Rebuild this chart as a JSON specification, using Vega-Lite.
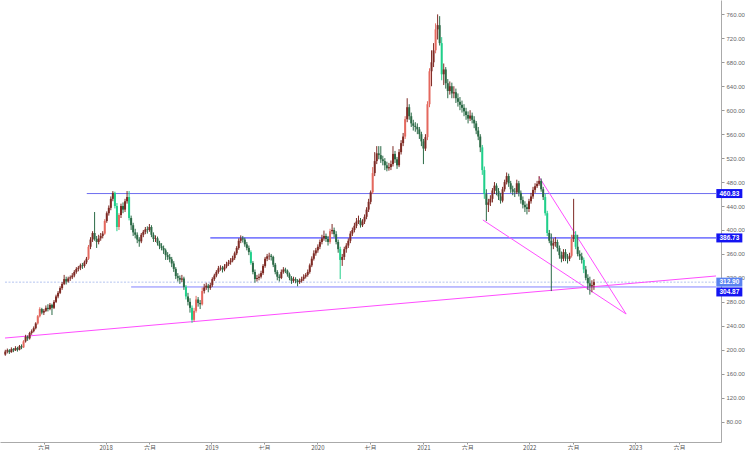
{
"$schema":"https://vega.github.io/schema/vega-lite/v6.json",
"width":721,"height":442,"padding":0,"background":"white",
"config":{"view":{"stroke":null},"axis":{"grid":false,"title":null,"labelOverlap":false,"labelBound":false},"axisY":{"labelOverlap":false}},
"datasets":{
"k":[
{"d":"2017-01-20","o":192,"h":200,"l":190,"c":197},{"d":"2017-01-27","o":197,"h":202,"l":194,"c":199},{"d":"2017-02-03","o":199,"h":201,"l":193,"c":196},{"d":"2017-02-10","o":196,"h":204,"l":195,"c":201},{"d":"2017-02-17","o":201,"h":203,"l":196,"c":199},{"d":"2017-02-24","o":199,"h":206,"l":198,"c":203},{"d":"2017-03-03","o":203,"h":205,"l":197,"c":200},{"d":"2017-03-10","o":200,"h":208,"l":199,"c":206},{"d":"2017-03-17","o":206,"h":209,"l":201,"c":204},{"d":"2017-03-24","o":204,"h":216,"l":203,"c":214},
{"d":"2017-03-31","o":214,"h":225,"l":212,"c":222},{"d":"2017-04-07","o":222,"h":224,"l":215,"c":219},{"d":"2017-04-14","o":219,"h":230,"l":217,"c":228},{"d":"2017-04-21","o":228,"h":234,"l":225,"c":231},{"d":"2017-04-28","o":231,"h":239,"l":229,"c":236},{"d":"2017-05-05","o":236,"h":246,"l":234,"c":244},{"d":"2017-05-12","o":244,"h":258,"l":242,"c":256},{"d":"2017-05-19","o":256,"h":271,"l":254,"c":268},{"d":"2017-05-26","o":268,"h":270,"l":259,"c":262},{"d":"2017-06-02","o":262,"h":268,"l":258,"c":265},
{"d":"2017-06-09","o":265,"h":274,"l":263,"c":270},{"d":"2017-06-16","o":270,"h":276,"l":264,"c":268},{"d":"2017-06-23","o":268,"h":278,"l":266,"c":275},{"d":"2017-06-30","o":275,"h":277,"l":258,"c":270},{"d":"2017-07-07","o":270,"h":283,"l":268,"c":280},{"d":"2017-07-14","o":280,"h":292,"l":278,"c":289},{"d":"2017-07-21","o":289,"h":298,"l":286,"c":295},{"d":"2017-07-28","o":295,"h":306,"l":293,"c":303},{"d":"2017-08-04","o":303,"h":313,"l":300,"c":310},{"d":"2017-08-11","o":310,"h":325,"l":308,"c":318},
{"d":"2017-08-18","o":318,"h":322,"l":309,"c":314},{"d":"2017-08-25","o":314,"h":322,"l":312,"c":319},{"d":"2017-09-01","o":319,"h":324,"l":315,"c":321},{"d":"2017-09-08","o":321,"h":328,"l":318,"c":324},{"d":"2017-09-15","o":324,"h":333,"l":321,"c":330},{"d":"2017-09-22","o":330,"h":338,"l":327,"c":335},{"d":"2017-09-29","o":335,"h":340,"l":331,"c":337},{"d":"2017-10-06","o":337,"h":344,"l":333,"c":341},{"d":"2017-10-13","o":341,"h":345,"l":335,"c":340},{"d":"2017-10-20","o":340,"h":349,"l":337,"c":346},
{"d":"2017-10-27","o":346,"h":355,"l":343,"c":352},{"d":"2017-11-03","o":352,"h":375,"l":350,"c":372},{"d":"2017-11-10","o":372,"h":388,"l":368,"c":384},{"d":"2017-11-17","o":384,"h":398,"l":380,"c":395},{"d":"2017-11-24","o":395,"h":430,"l":382,"c":385},{"d":"2017-12-01","o":385,"h":390,"l":370,"c":380},{"d":"2017-12-08","o":380,"h":392,"l":376,"c":386},{"d":"2017-12-15","o":386,"h":395,"l":382,"c":390},{"d":"2017-12-22","o":390,"h":398,"l":386,"c":394},{"d":"2017-12-29","o":394,"h":418,"l":392,"c":415},
{"d":"2018-01-05","o":415,"h":431,"l":412,"c":428},{"d":"2018-01-12","o":428,"h":441,"l":424,"c":437},{"d":"2018-01-19","o":437,"h":456,"l":433,"c":452},{"d":"2018-01-26","o":452,"h":465,"l":448,"c":462},{"d":"2018-02-02","o":462,"h":464,"l":436,"c":440},{"d":"2018-02-09","o":440,"h":445,"l":398,"c":405},{"d":"2018-02-16","o":405,"h":428,"l":400,"c":425},{"d":"2018-02-23","o":425,"h":444,"l":420,"c":440},{"d":"2018-03-02","o":440,"h":446,"l":428,"c":434},{"d":"2018-03-09","o":434,"h":452,"l":430,"c":448},
{"d":"2018-03-16","o":448,"h":465,"l":444,"c":455},{"d":"2018-03-23","o":455,"h":465,"l":416,"c":420},{"d":"2018-03-30","o":420,"h":424,"l":400,"c":408},{"d":"2018-04-06","o":408,"h":412,"l":390,"c":396},{"d":"2018-04-13","o":396,"h":402,"l":386,"c":392},{"d":"2018-04-20","o":392,"h":396,"l":378,"c":384},{"d":"2018-04-27","o":384,"h":388,"l":372,"c":381},{"d":"2018-05-04","o":381,"h":395,"l":378,"c":392},{"d":"2018-05-11","o":392,"h":400,"l":388,"c":397},{"d":"2018-05-18","o":397,"h":405,"l":393,"c":401},
{"d":"2018-05-25","o":401,"h":406,"l":394,"c":400},{"d":"2018-06-01","o":400,"h":410,"l":397,"c":405},{"d":"2018-06-08","o":405,"h":408,"l":388,"c":392},{"d":"2018-06-15","o":392,"h":396,"l":380,"c":385},{"d":"2018-06-22","o":385,"h":391,"l":380,"c":386},{"d":"2018-06-29","o":386,"h":389,"l":374,"c":378},{"d":"2018-07-06","o":378,"h":382,"l":368,"c":373},{"d":"2018-07-13","o":373,"h":378,"l":366,"c":370},{"d":"2018-07-20","o":370,"h":374,"l":360,"c":366},{"d":"2018-07-27","o":366,"h":369,"l":350,"c":358},
{"d":"2018-08-03","o":358,"h":363,"l":350,"c":355},{"d":"2018-08-10","o":355,"h":360,"l":346,"c":351},{"d":"2018-08-17","o":351,"h":355,"l":338,"c":344},{"d":"2018-08-24","o":344,"h":348,"l":330,"c":335},{"d":"2018-08-31","o":335,"h":338,"l":318,"c":323},{"d":"2018-09-07","o":323,"h":328,"l":314,"c":320},{"d":"2018-09-14","o":320,"h":324,"l":310,"c":317},{"d":"2018-09-21","o":317,"h":325,"l":313,"c":319},{"d":"2018-09-28","o":319,"h":322,"l":300,"c":305},{"d":"2018-10-05","o":305,"h":308,"l":284,"c":289},
{"d":"2018-10-12","o":289,"h":295,"l":274,"c":280},{"d":"2018-10-19","o":280,"h":286,"l":262,"c":270},{"d":"2018-10-26","o":270,"h":274,"l":245,"c":250},{"d":"2018-11-02","o":250,"h":270,"l":247,"c":265},{"d":"2018-11-09","o":265,"h":290,"l":262,"c":284},{"d":"2018-11-16","o":284,"h":288,"l":272,"c":278},{"d":"2018-11-23","o":278,"h":283,"l":268,"c":276},{"d":"2018-11-30","o":276,"h":304,"l":274,"c":298},{"d":"2018-12-07","o":298,"h":310,"l":294,"c":304},{"d":"2018-12-14","o":304,"h":312,"l":300,"c":307},
{"d":"2018-12-21","o":307,"h":310,"l":296,"c":303},{"d":"2018-12-28","o":303,"h":312,"l":300,"c":308},{"d":"2019-01-04","o":308,"h":321,"l":305,"c":318},{"d":"2019-01-11","o":318,"h":327,"l":315,"c":324},{"d":"2019-01-18","o":324,"h":333,"l":321,"c":330},{"d":"2019-01-25","o":330,"h":340,"l":327,"c":336},{"d":"2019-02-01","o":336,"h":341,"l":332,"c":337},{"d":"2019-02-08","o":337,"h":340,"l":329,"c":334},{"d":"2019-02-15","o":334,"h":343,"l":331,"c":339},{"d":"2019-02-22","o":339,"h":347,"l":336,"c":343},
{"d":"2019-03-01","o":343,"h":350,"l":340,"c":346},{"d":"2019-03-08","o":346,"h":353,"l":342,"c":349},{"d":"2019-03-15","o":349,"h":357,"l":346,"c":353},{"d":"2019-03-22","o":353,"h":364,"l":350,"c":361},{"d":"2019-03-29","o":361,"h":373,"l":358,"c":370},{"d":"2019-04-05","o":370,"h":386,"l":367,"c":382},{"d":"2019-04-12","o":382,"h":391,"l":378,"c":386},{"d":"2019-04-19","o":386,"h":390,"l":379,"c":384},{"d":"2019-04-26","o":384,"h":387,"l":372,"c":376},{"d":"2019-05-03","o":376,"h":380,"l":366,"c":370},
{"d":"2019-05-10","o":370,"h":374,"l":358,"c":363},{"d":"2019-05-17","o":363,"h":366,"l":342,"c":345},{"d":"2019-05-24","o":345,"h":348,"l":326,"c":330},{"d":"2019-05-31","o":330,"h":334,"l":312,"c":318},{"d":"2019-06-07","o":318,"h":325,"l":314,"c":320},{"d":"2019-06-14","o":320,"h":327,"l":316,"c":322},{"d":"2019-06-21","o":322,"h":332,"l":319,"c":328},{"d":"2019-06-28","o":328,"h":343,"l":325,"c":340},{"d":"2019-07-05","o":340,"h":355,"l":337,"c":352},{"d":"2019-07-12","o":352,"h":360,"l":348,"c":356},
{"d":"2019-07-19","o":356,"h":362,"l":350,"c":357},{"d":"2019-07-26","o":357,"h":360,"l":349,"c":355},{"d":"2019-08-02","o":355,"h":357,"l":338,"c":342},{"d":"2019-08-09","o":342,"h":345,"l":326,"c":330},{"d":"2019-08-16","o":330,"h":333,"l":316,"c":322},{"d":"2019-08-23","o":322,"h":326,"l":314,"c":320},{"d":"2019-08-30","o":320,"h":334,"l":318,"c":330},{"d":"2019-09-06","o":330,"h":338,"l":327,"c":334},{"d":"2019-09-13","o":334,"h":337,"l":328,"c":332},{"d":"2019-09-20","o":332,"h":334,"l":322,"c":326},
{"d":"2019-09-27","o":326,"h":329,"l":316,"c":320},{"d":"2019-10-04","o":320,"h":323,"l":310,"c":315},{"d":"2019-10-11","o":315,"h":322,"l":312,"c":318},{"d":"2019-10-18","o":318,"h":321,"l":311,"c":316},{"d":"2019-10-25","o":316,"h":318,"l":306,"c":313},{"d":"2019-11-01","o":313,"h":319,"l":310,"c":315},{"d":"2019-11-08","o":315,"h":322,"l":312,"c":318},{"d":"2019-11-15","o":318,"h":326,"l":315,"c":322},{"d":"2019-11-22","o":322,"h":328,"l":319,"c":325},{"d":"2019-11-29","o":325,"h":334,"l":322,"c":330},
{"d":"2019-12-06","o":330,"h":344,"l":327,"c":341},{"d":"2019-12-13","o":341,"h":356,"l":338,"c":352},{"d":"2019-12-20","o":352,"h":366,"l":349,"c":361},{"d":"2019-12-27","o":361,"h":370,"l":357,"c":366},{"d":"2020-01-03","o":366,"h":376,"l":362,"c":372},{"d":"2020-01-10","o":372,"h":384,"l":368,"c":380},{"d":"2020-01-17","o":380,"h":392,"l":376,"c":386},{"d":"2020-01-24","o":386,"h":399,"l":382,"c":390},{"d":"2020-01-31","o":390,"h":394,"l":380,"c":385},{"d":"2020-02-07","o":385,"h":390,"l":374,"c":380},
{"d":"2020-02-14","o":380,"h":402,"l":377,"c":398},{"d":"2020-02-21","o":398,"h":410,"l":393,"c":400},{"d":"2020-02-28","o":400,"h":404,"l":388,"c":393},{"d":"2020-03-06","o":393,"h":398,"l":376,"c":380},{"d":"2020-03-13","o":380,"h":384,"l":362,"c":368},{"d":"2020-03-20","o":368,"h":372,"l":318,"c":350},{"d":"2020-03-27","o":350,"h":360,"l":340,"c":355},{"d":"2020-04-03","o":355,"h":372,"l":350,"c":368},{"d":"2020-04-10","o":368,"h":378,"l":362,"c":374},{"d":"2020-04-17","o":374,"h":386,"l":370,"c":382},
{"d":"2020-04-24","o":382,"h":398,"l":378,"c":394},{"d":"2020-05-01","o":394,"h":404,"l":390,"c":400},{"d":"2020-05-08","o":400,"h":412,"l":396,"c":407},{"d":"2020-05-15","o":407,"h":420,"l":403,"c":414},{"d":"2020-05-22","o":414,"h":424,"l":410,"c":416},{"d":"2020-05-29","o":416,"h":420,"l":404,"c":408},{"d":"2020-06-05","o":408,"h":418,"l":405,"c":414},{"d":"2020-06-12","o":414,"h":426,"l":410,"c":422},{"d":"2020-06-19","o":422,"h":438,"l":418,"c":434},{"d":"2020-06-26","o":434,"h":452,"l":430,"c":447},
{"d":"2020-07-03","o":447,"h":466,"l":443,"c":463},{"d":"2020-07-10","o":463,"h":505,"l":460,"c":495},{"d":"2020-07-17","o":495,"h":530,"l":490,"c":515},{"d":"2020-07-24","o":515,"h":540,"l":510,"c":528},{"d":"2020-07-31","o":528,"h":540,"l":518,"c":525},{"d":"2020-08-07","o":525,"h":540,"l":512,"c":518},{"d":"2020-08-14","o":518,"h":524,"l":508,"c":515},{"d":"2020-08-21","o":515,"h":520,"l":500,"c":508},{"d":"2020-08-28","o":508,"h":514,"l":498,"c":503},{"d":"2020-09-04","o":503,"h":512,"l":499,"c":505},
{"d":"2020-09-11","o":505,"h":516,"l":500,"c":510},{"d":"2020-09-18","o":510,"h":540,"l":506,"c":527},{"d":"2020-09-25","o":527,"h":532,"l":512,"c":518},{"d":"2020-10-02","o":518,"h":522,"l":502,"c":508},{"d":"2020-10-09","o":508,"h":535,"l":505,"c":530},{"d":"2020-10-16","o":530,"h":550,"l":526,"c":545},{"d":"2020-10-23","o":545,"h":562,"l":540,"c":556},{"d":"2020-10-30","o":556,"h":590,"l":552,"c":585},{"d":"2020-11-06","o":585,"h":620,"l":580,"c":605},{"d":"2020-11-13","o":605,"h":610,"l":584,"c":590},
{"d":"2020-11-20","o":590,"h":596,"l":572,"c":578},{"d":"2020-11-27","o":578,"h":584,"l":566,"c":574},{"d":"2020-12-04","o":574,"h":580,"l":564,"c":572},{"d":"2020-12-11","o":572,"h":578,"l":560,"c":568},{"d":"2020-12-18","o":568,"h":572,"l":552,"c":560},{"d":"2020-12-25","o":560,"h":564,"l":540,"c":548},{"d":"2021-01-01","o":548,"h":552,"l":510,"c":536},{"d":"2021-01-08","o":536,"h":560,"l":532,"c":555},{"d":"2021-01-15","o":555,"h":615,"l":550,"c":610},{"d":"2021-01-22","o":610,"h":670,"l":605,"c":665},
{"d":"2021-01-29","o":665,"h":700,"l":640,"c":680},{"d":"2021-02-05","o":680,"h":712,"l":672,"c":700},{"d":"2021-02-12","o":700,"h":745,"l":695,"c":735},{"d":"2021-02-19","o":735,"h":760,"l":718,"c":742},{"d":"2021-02-26","o":742,"h":757,"l":708,"c":712},{"d":"2021-03-05","o":712,"h":722,"l":650,"c":660},{"d":"2021-03-12","o":660,"h":678,"l":642,"c":668},{"d":"2021-03-19","o":668,"h":672,"l":636,"c":645},{"d":"2021-03-26","o":645,"h":652,"l":620,"c":632},{"d":"2021-04-02","o":632,"h":648,"l":626,"c":640},
{"d":"2021-04-09","o":640,"h":646,"l":620,"c":628},{"d":"2021-04-16","o":628,"h":640,"l":620,"c":630},{"d":"2021-04-23","o":630,"h":636,"l":612,"c":620},{"d":"2021-04-30","o":620,"h":628,"l":606,"c":614},{"d":"2021-05-07","o":614,"h":622,"l":600,"c":609},{"d":"2021-05-14","o":609,"h":616,"l":596,"c":604},{"d":"2021-05-21","o":604,"h":610,"l":590,"c":598},{"d":"2021-05-28","o":598,"h":604,"l":584,"c":592},{"d":"2021-06-04","o":592,"h":598,"l":578,"c":586},{"d":"2021-06-11","o":586,"h":600,"l":582,"c":591},
{"d":"2021-06-18","o":591,"h":596,"l":578,"c":584},{"d":"2021-06-25","o":584,"h":590,"l":570,"c":578},{"d":"2021-07-02","o":578,"h":582,"l":560,"c":566},{"d":"2021-07-09","o":566,"h":572,"l":550,"c":556},{"d":"2021-07-16","o":556,"h":560,"l":530,"c":538},{"d":"2021-07-23","o":538,"h":542,"l":492,"c":500},{"d":"2021-07-30","o":500,"h":506,"l":452,"c":460},{"d":"2021-08-06","o":460,"h":468,"l":415,"c":442},{"d":"2021-08-13","o":442,"h":452,"l":430,"c":446},{"d":"2021-08-20","o":446,"h":458,"l":440,"c":452},
{"d":"2021-08-27","o":452,"h":470,"l":446,"c":466},{"d":"2021-09-03","o":466,"h":480,"l":460,"c":474},{"d":"2021-09-10","o":474,"h":478,"l":458,"c":465},{"d":"2021-09-17","o":465,"h":470,"l":450,"c":456},{"d":"2021-09-24","o":456,"h":462,"l":444,"c":449},{"d":"2021-10-01","o":449,"h":472,"l":446,"c":468},{"d":"2021-10-08","o":468,"h":484,"l":464,"c":480},{"d":"2021-10-15","o":480,"h":496,"l":476,"c":490},{"d":"2021-10-22","o":490,"h":494,"l":472,"c":478},{"d":"2021-10-29","o":478,"h":482,"l":462,"c":468},
{"d":"2021-11-05","o":468,"h":474,"l":458,"c":464},{"d":"2021-11-12","o":464,"h":470,"l":455,"c":463},{"d":"2021-11-19","o":463,"h":484,"l":460,"c":478},{"d":"2021-11-26","o":478,"h":482,"l":456,"c":462},{"d":"2021-12-03","o":462,"h":466,"l":444,"c":450},{"d":"2021-12-10","o":450,"h":456,"l":436,"c":442},{"d":"2021-12-17","o":442,"h":448,"l":430,"c":438},{"d":"2021-12-24","o":438,"h":444,"l":426,"c":435},{"d":"2021-12-31","o":435,"h":452,"l":430,"c":448},{"d":"2022-01-07","o":448,"h":462,"l":444,"c":456},
{"d":"2022-01-14","o":456,"h":472,"l":452,"c":467},{"d":"2022-01-21","o":467,"h":478,"l":462,"c":473},{"d":"2022-01-28","o":473,"h":482,"l":470,"c":477},{"d":"2022-02-04","o":477,"h":490,"l":474,"c":482},{"d":"2022-02-11","o":482,"h":486,"l":464,"c":468},{"d":"2022-02-18","o":468,"h":472,"l":450,"c":455},{"d":"2022-02-25","o":455,"h":460,"l":424,"c":428},{"d":"2022-03-04","o":428,"h":432,"l":390,"c":395},{"d":"2022-03-11","o":395,"h":400,"l":378,"c":382},{"d":"2022-03-18","o":382,"h":394,"l":298,"c":374},
{"d":"2022-03-25","o":374,"h":386,"l":368,"c":378},{"d":"2022-04-01","o":378,"h":388,"l":372,"c":380},{"d":"2022-04-08","o":380,"h":384,"l":364,"c":370},{"d":"2022-04-15","o":370,"h":374,"l":352,"c":358},{"d":"2022-04-22","o":358,"h":364,"l":346,"c":352},{"d":"2022-04-29","o":352,"h":368,"l":348,"c":363},{"d":"2022-05-06","o":363,"h":368,"l":348,"c":354},{"d":"2022-05-13","o":354,"h":360,"l":344,"c":352},{"d":"2022-05-20","o":352,"h":362,"l":348,"c":357},{"d":"2022-05-27","o":357,"h":392,"l":354,"c":385},
{"d":"2022-06-03","o":385,"h":452,"l":380,"c":392},{"d":"2022-06-10","o":392,"h":398,"l":368,"c":372},{"d":"2022-06-17","o":372,"h":392,"l":356,"c":360},{"d":"2022-06-24","o":360,"h":366,"l":350,"c":356},{"d":"2022-07-01","o":356,"h":362,"l":344,"c":350},{"d":"2022-07-08","o":350,"h":354,"l":328,"c":334},{"d":"2022-07-15","o":334,"h":340,"l":316,"c":320},{"d":"2022-07-22","o":320,"h":326,"l":300,"c":311},{"d":"2022-07-29","o":311,"h":322,"l":292,"c":306},{"d":"2022-08-05","o":306,"h":316,"l":296,"c":308},
{"d":"2022-08-12","o":308,"h":318,"l":300,"c":312.9}
],
"tl":[
{"s":"2017-01-19","e":"2023-10-07","a":219.6,"b":323.2},
{"s":"2021-07-25","e":"2022-12-01","a":416.7,"b":259.7},
{"s":"2022-02-04","e":"2022-12-01","a":488.5,"b":259.7}
],
"lv":[
{"s":"2017-10-28","e":"2023-10-07","v":460.83,"n":"a"},
{"s":"2018-12-28","e":"2023-10-07","v":386.73,"n":"b"},
{"s":"2018-03-30","e":"2023-10-07","v":304.87,"n":"c"}
],
"cur":[{"s":"2017-01-19","e":"2023-10-07","v":312.9}],
"lab":[{"v":460.83,"n":"a"},{"v":386.73,"n":"b"},{"v":312.9,"n":"p"}],
"lab2":[{"v":304.87,"n":"c"}]
},
"layer":[
{"data":{"name":"cur"},"mark":{"type":"rule","color":"#b4c4f0","strokeWidth":1,"strokeDash":[2,1.5]},
 "encoding":{"x":{"field":"s","type":"temporal","scale":{"type":"utc","domain":[{"year":2017,"month":1,"date":19,"utc":true},{"year":2023,"month":10,"date":7,"utc":true}]},
   "axis":{"orient":"bottom","title":null,"values":[{"year":2017,"month":6,"date":1,"utc":true},{"year":2018,"month":1,"date":1,"utc":true},{"year":2018,"month":6,"date":1,"utc":true},{"year":2019,"month":1,"date":1,"utc":true},{"year":2019,"month":7,"date":1,"utc":true},{"year":2020,"month":1,"date":1,"utc":true},{"year":2020,"month":7,"date":1,"utc":true},{"year":2021,"month":1,"date":1,"utc":true},{"year":2021,"month":6,"date":1,"utc":true},{"year":2022,"month":1,"date":1,"utc":true},{"year":2022,"month":6,"date":1,"utc":true},{"year":2023,"month":1,"date":1,"utc":true},{"year":2023,"month":6,"date":1,"utc":true}],
   "labelExpr":"utcmonth(datum.value)==0 ? utcFormat(datum.value,'%Y') : (utcmonth(datum.value)==5 ? '六月' : '七月')",
   "labelFont":"Noto Sans CJK SC","labelFontSize":6,"labelColor":"#555555","labelPadding":0,"tickSize":2,"tickColor":"#999999","domainColor":"#aaaaaa","grid":false,"labelFlush":false,"labelOverlap":false}},
  "x2":{"field":"e"},
  "y":{"field":"v","type":"quantitative","scale":{"domain":[46,784],"nice":false,"zero":false},
   "axis":{"orient":"right","title":null,"values":[80,120,160,200,240,280,320,360,400,440,480,520,560,600,640,680,720,760],"format":".2f","labelFont":"Liberation Sans","labelFontSize":6,"labelColor":"#666666","labelPadding":2,"tickSize":3,"tickColor":"#999999","domainColor":"#aaaaaa","grid":false,"labelOverlap":false,"labelSeparation":0}}}},
{"data":{"name":"lv"},"mark":{"type":"rule","strokeWidth":1},
 "encoding":{"x":{"field":"s","type":"temporal"},"x2":{"field":"e"},
 "y":{"field":"v","type":"quantitative","axis":{"orient":"right","title":null,"values":[80,120,160,200,240,280,320,360,400,440,480,520,560,600,640,680,720,760],"format":".2f","labelFont":"Liberation Sans","labelFontSize":6,"labelColor":"#666666","labelPadding":2,"tickSize":3,"tickColor":"#999999","domainColor":"#aaaaaa","grid":false,"labelOverlap":false,"labelSeparation":0}},
 "color":{"condition":[{"test":"datum.n=='a'","value":"#6e6ef0"},{"test":"datum.n=='b'","value":"#2020ff"}],"value":"#8282ff"}}},
{"data":{"name":"tl"},"mark":{"type":"rule","color":"#ff4dff","strokeWidth":1},
 "encoding":{"x":{"field":"s","type":"temporal"},"x2":{"field":"e"},
 "y":{"field":"a","type":"quantitative","axis":{"orient":"right","title":null,"values":[80,120,160,200,240,280,320,360,400,440,480,520,560,600,640,680,720,760],"format":".2f","labelFont":"Liberation Sans","labelFontSize":6,"labelColor":"#666666","labelPadding":2,"tickSize":3,"tickColor":"#999999","domainColor":"#aaaaaa","grid":false,"labelOverlap":false,"labelSeparation":0}},"y2":{"field":"b"}}},
{"data":{"name":"k"},"mark":{"type":"rule","strokeWidth":1},
 "encoding":{"x":{"field":"d","type":"temporal"},
  "y":{"field":"l","type":"quantitative","axis":{"orient":"right","title":null,"values":[80,120,160,200,240,280,320,360,400,440,480,520,560,600,640,680,720,760],"format":".2f","labelFont":"Liberation Sans","labelFontSize":6,"labelColor":"#666666","labelPadding":2,"tickSize":3,"tickColor":"#999999","domainColor":"#aaaaaa","grid":false,"labelOverlap":false,"labelSeparation":0}},
  "y2":{"field":"h"},
  "color":{"condition":[{"test":"datum.c>=datum.o && (datum.c-datum.o)/datum.o>0.045","value":"#e4685e"},{"test":"datum.c>=datum.o","value":"#7e2a24"},{"test":"(datum.o-datum.c)/datum.o>0.045","value":"#20cf8a"}],"value":"#2b6a46"}}},
{"data":{"name":"k"},"mark":{"type":"bar","size":2},
 "encoding":{"x":{"field":"d","type":"temporal"},
  "y":{"field":"o","type":"quantitative","axis":{"orient":"right","title":null,"values":[80,120,160,200,240,280,320,360,400,440,480,520,560,600,640,680,720,760],"format":".2f","labelFont":"Liberation Sans","labelFontSize":6,"labelColor":"#666666","labelPadding":2,"tickSize":3,"tickColor":"#999999","domainColor":"#aaaaaa","grid":false,"labelOverlap":false,"labelSeparation":0}},"y2":{"field":"c"},
  "color":{"condition":[{"test":"datum.c>=datum.o && (datum.c-datum.o)/datum.o>0.045","value":"#e4685e"},{"test":"datum.c>=datum.o","value":"#7e2a24"},{"test":"(datum.o-datum.c)/datum.o>0.045","value":"#20cf8a"}],"value":"#2b6a46"}}},
{"data":{"name":"lab"},"mark":{"type":"tick","orient":"horizontal","size":26,"thickness":9,"opacity":1},
 "encoding":{"x":{"datum":{"year":2023,"month":11,"date":22,"utc":true},"type":"temporal"},
  "y":{"field":"v","type":"quantitative","axis":{"orient":"right","title":null,"values":[80,120,160,200,240,280,320,360,400,440,480,520,560,600,640,680,720,760],"format":".2f","labelFont":"Liberation Sans","labelFontSize":6,"labelColor":"#666666","labelPadding":2,"tickSize":3,"tickColor":"#999999","domainColor":"#aaaaaa","grid":false,"labelOverlap":false,"labelSeparation":0}},
  "color":{"condition":{"test":"datum.n=='p'","value":"#5a82f0"},"value":"#1414f2"}}},
{"data":{"name":"lab"},"mark":{"type":"text","fontSize":6.5,"font":"Liberation Sans","fontWeight":"bold","color":"white","align":"center","baseline":"middle"},
 "encoding":{"x":{"datum":{"year":2023,"month":11,"date":22,"utc":true},"type":"temporal"},
  "y":{"field":"v","type":"quantitative","axis":{"orient":"right","title":null,"values":[80,120,160,200,240,280,320,360,400,440,480,520,560,600,640,680,720,760],"format":".2f","labelFont":"Liberation Sans","labelFontSize":6,"labelColor":"#666666","labelPadding":2,"tickSize":3,"tickColor":"#999999","domainColor":"#aaaaaa","grid":false,"labelOverlap":false,"labelSeparation":0}},
  "text":{"field":"v","type":"quantitative","format":".2f"}}},
{"data":{"name":"lab2"},"mark":{"type":"tick","orient":"horizontal","size":26,"thickness":9,"yOffset":5,"color":"#1414f2","opacity":1},
 "encoding":{"x":{"datum":{"year":2023,"month":11,"date":22,"utc":true},"type":"temporal"},
  "y":{"field":"v","type":"quantitative","axis":{"orient":"right","title":null,"values":[80,120,160,200,240,280,320,360,400,440,480,520,560,600,640,680,720,760],"format":".2f","labelFont":"Liberation Sans","labelFontSize":6,"labelColor":"#666666","labelPadding":2,"tickSize":3,"tickColor":"#999999","domainColor":"#aaaaaa","grid":false,"labelOverlap":false,"labelSeparation":0}}}},
{"data":{"name":"lab2"},"mark":{"type":"text","fontSize":6.5,"font":"Liberation Sans","fontWeight":"bold","color":"white","align":"center","baseline":"middle","dy":5},
 "encoding":{"x":{"datum":{"year":2023,"month":11,"date":22,"utc":true},"type":"temporal"},
  "y":{"field":"v","type":"quantitative","axis":{"orient":"right","title":null,"values":[80,120,160,200,240,280,320,360,400,440,480,520,560,600,640,680,720,760],"format":".2f","labelFont":"Liberation Sans","labelFontSize":6,"labelColor":"#666666","labelPadding":2,"tickSize":3,"tickColor":"#999999","domainColor":"#aaaaaa","grid":false,"labelOverlap":false,"labelSeparation":0}},
  "text":{"field":"v","type":"quantitative","format":".2f"}}}
]
}
